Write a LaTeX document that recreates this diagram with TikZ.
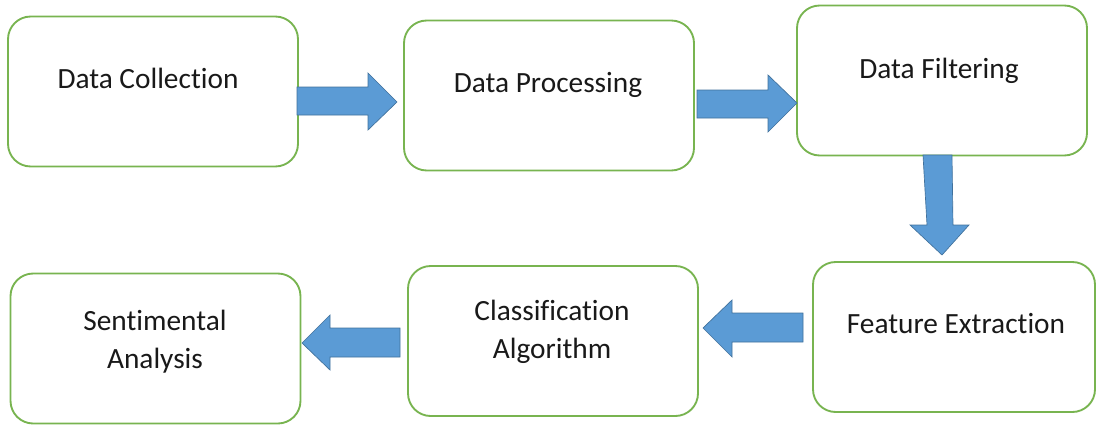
\documentclass[tikz,border=0pt]{standalone}
\usepackage{fontspec}
\setmainfont[Ligatures={NoCommon,NoRequired,NoContextual}]{Carlito}
\definecolor{boxgreen}{RGB}{120,180,80}
\definecolor{arrowblue}{RGB}{91,155,213}
\definecolor{arrowedge}{RGB}{65,113,156}
\definecolor{txt}{RGB}{25,25,25}
\begin{document}
\begin{tikzpicture}[x=0.75pt,y=-0.75pt,
  box/.style={draw=boxgreen,line width=1.4pt,rounded corners=17pt,fill=white,
    minimum width=217.5pt,minimum height=112.5pt,inner sep=0pt},
  label/.style={font=\fontsize{22}{28.5}\selectfont,text=txt,inner sep=0pt,align=center},
  blockarrow/.style={fill=arrowblue,draw=arrowedge,line width=0.5pt,line join=miter}]
\useasboundingbox (0,0) rectangle (1096,425);
% boxes
\node[box] (b1) at (153,91.5) {};
\node[box] (b2) at (549,95.5) {};
\node[box] (b3) at (942,80.5) {};
\node[box,minimum width=211.5pt] (b4) at (954,337) {};
\node[box] (b5) at (553,341) {};
\node[box] (b6) at (155.5,348.5) {};
% texts
\node[label,anchor=base] (t1) at (148,88) {Data Collection};
\node[label,anchor=base] (t2) at (548,92) {Data Processing};
\node[label,anchor=base] (t3) at (939,78) {Data Filtering};
\node[label,anchor=base] (t4) at (956,333) {Feature Extraction};
\node[label] (t5) at (552,331.5) {Classification\\Algorithm};
\node[label] (t6) at (155,342) {Sentimental\\Analysis};
% block arrows
\draw[blockarrow] (297,87) -- (368,87) -- (368,73) -- (397,102) -- (368,130) -- (368,115) -- (297,115) -- cycle;
\draw[blockarrow] (697,90) -- (768,90) -- (768,75) -- (797,103) -- (768,132) -- (768,118) -- (697,118) -- cycle;
\draw[blockarrow] (923,155) -- (952,155) -- (953,225) -- (969,225) -- (942,255) -- (910,225) -- (927,225) -- cycle;
\draw[blockarrow] (803,313) -- (732,313) -- (732,300) -- (703,328) -- (732,357) -- (732,342) -- (803,342) -- cycle;
\draw[blockarrow] (400,328) -- (330,328) -- (330,315) -- (302,343) -- (330,370) -- (330,357) -- (400,357) -- cycle;
\end{tikzpicture}
\end{document}
